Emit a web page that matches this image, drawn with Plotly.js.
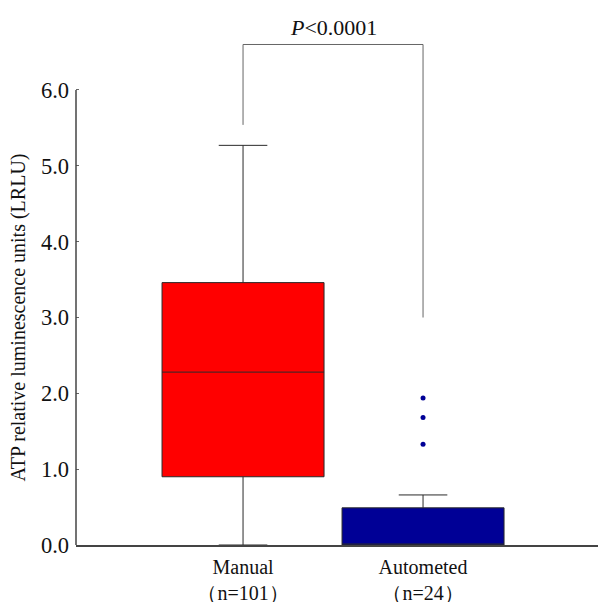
<!DOCTYPE html>
<html>
<head>
<meta charset="utf-8">
<script src="https://cdn.plot.ly/plotly-3.0.1.min.js"></script>
<style>html,body{margin:0;padding:0;background:#fff;}#chart{width:599px;height:602px;}</style>
</head>
<body>
<div id="chart"></div>
<script>
// ---- data ----
var categories = ['Manual', 'Autometed'];
var sampleSizes = ['（n=101）', '（n=24）'];
var q1Values = [0.90, 0.0];
var medianValues = [2.28, 0.0];
var q3Values = [3.46, 0.49];
var lowerFences = [0.0, 0.0];
var upperFences = [5.27, 0.66];
var automatedOutliers = [1.94, 1.68, 1.33];
var boxColors = ['#ff0000', '#000096'];
var yTickValues = [0, 1, 2, 3, 4, 5, 6];
var pValueText = '<i>P</i><0.0001';
var bracketLegEnds = [5.54, 3.0];
var bracketTop = 6.6;

var serif = 'Liberation Serif, Times New Roman, serif';

var traces = categories.map(function (c, i) {
  return {
    type: 'box',
    x: [c],
    q1: [q1Values[i]],
    median: [medianValues[i]],
    q3: [q3Values[i]],
    lowerfence: [lowerFences[i]],
    upperfence: [upperFences[i]],
    width: 0.9,
    whiskerwidth: 0.3,
    fillcolor: boxColors[i],
    line: {color: '#2a2a2a', width: 1},
    boxpoints: false,
    hoverinfo: 'skip',
    showlegend: false
  };
});

traces.push({
  type: 'scatter',
  mode: 'markers',
  x: automatedOutliers.map(function () { return categories[1]; }),
  y: automatedOutliers,
  marker: {color: boxColors[1], size: 5},
  showlegend: false,
  hoverinfo: 'skip'
});

var shapes = [
  // y axis line (0 to 6 only)
  {type: 'line', xref: 'paper', yref: 'y', x0: 0, x1: 0, y0: 0, y1: yTickValues[yTickValues.length - 1],
   line: {color: '#444', width: 1.5}},
  // significance bracket
  {type: 'line', xref: 'x', yref: 'y', x0: 0, x1: 0, y0: bracketLegEnds[0], y1: bracketTop, line: {color: '#666', width: 1}},
  {type: 'line', xref: 'x', yref: 'y', x0: 0, x1: 1, y0: bracketTop, y1: bracketTop, line: {color: '#666', width: 1}},
  {type: 'line', xref: 'x', yref: 'y', x0: 1, x1: 1, y0: bracketTop, y1: bracketLegEnds[1], line: {color: '#666', width: 1}}
];

var layout = {
  width: 599,
  height: 602,
  margin: {l: 76, r: 1, t: 20, b: 57},
  paper_bgcolor: '#fff',
  plot_bgcolor: '#fff',
  font: {family: serif, color: '#111'},
  showlegend: false,
  boxmode: 'overlay',
  xaxis: {
    type: 'category',
    categoryarray: categories,
    range: [-0.928, 1.972],
    tickvals: categories,
    ticktext: categories.map(function (c, i) { return c + '<br>' + sampleSizes[i]; }),
    tickfont: {family: serif, size: 20, color: '#111'},
    ticklabelstandoff: 3,
    showline: true,
    linecolor: '#444',
    linewidth: 1.5,
    ticks: '',
    showgrid: false,
    zeroline: false,
    fixedrange: true
  },
  yaxis: {
    range: [0, 6.923],
    tickvals: yTickValues,
    tickformat: '.1f',
    tickfont: {family: serif, size: 22.5, color: '#111'},
    ticklabelstandoff: 6,
    ticks: 'inside',
    ticklen: 3,
    tickcolor: '#666',
    showline: false,
    showgrid: false,
    zeroline: false,
    fixedrange: true
  },
  shapes: shapes,
  annotations: [
    {xref: 'x', yref: 'y', x: 0.5, y: 6.82, text: pValueText, showarrow: false,
     xanchor: 'center', yanchor: 'middle', font: {family: serif, size: 22, color: '#111'}},
    {xref: 'paper', yref: 'y', x: -0.111, y: 3.0, text: 'ATP relative luminescence units (LRLU)',
     textangle: -90, showarrow: false, xanchor: 'center', yanchor: 'middle',
     font: {family: serif, size: 20, color: '#111'}}
  ]
};

Plotly.newPlot('chart', traces, layout, {displayModeBar: false, staticPlot: true});
</script>
</body>
</html>
